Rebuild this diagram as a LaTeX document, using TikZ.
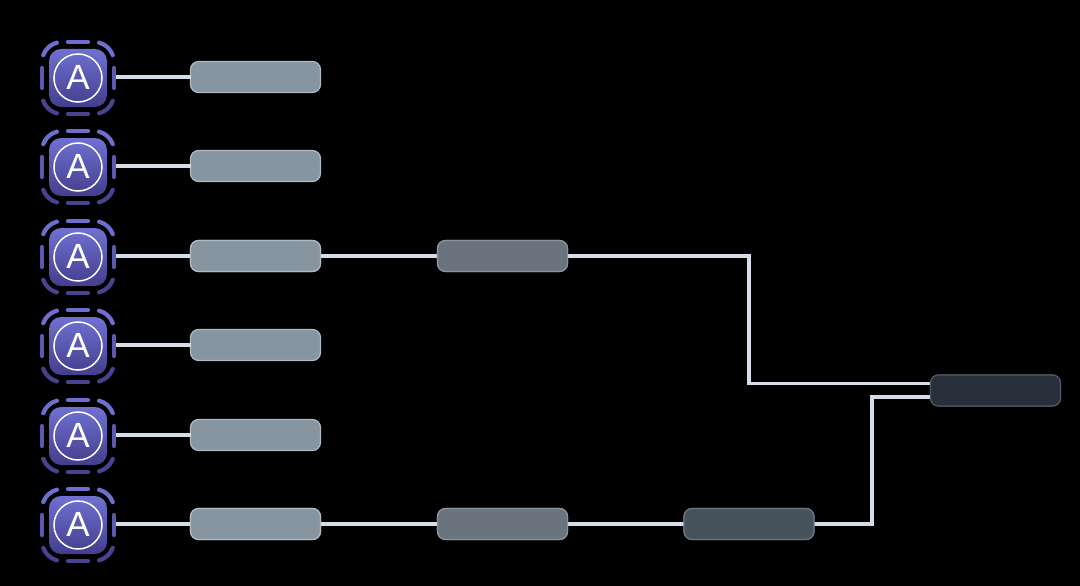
\documentclass[tikz,border=0pt]{standalone}
\usepackage{fontspec}
\setmainfont{Liberation Sans}
\usepackage{xcolor}
\definecolor{bg}{HTML}{000000}
\definecolor{wire}{HTML}{D5DDE8}
\definecolor{agenttop}{HTML}{6F70D2}
\definecolor{agentbot}{HTML}{433E8C}
\definecolor{ringtop}{HTML}{6E6ECF}
\definecolor{ringmid}{HTML}{5B58B2}
\definecolor{ringbot}{HTML}{484391}
\definecolor{stageAfill}{HTML}{8795A1}
\definecolor{stageAline}{HTML}{AEBAC4}
\definecolor{stageBfill}{HTML}{69747F}
\definecolor{stageBline}{HTML}{8A949E}
\definecolor{stageCfill}{HTML}{46525C}
\definecolor{stageCline}{HTML}{6A757F}
\definecolor{stageDfill}{HTML}{27303A}
\definecolor{stageDline}{HTML}{4E5862}
\tikzset{
  wireline/.style={draw=wire, line width=3.8pt},
  stagebox/.style={rectangle, rounded corners=8pt, minimum width=130pt, minimum height=31pt, inner sep=0pt, outer sep=0pt, line width=1.2pt},
  stageA/.style={stagebox, fill=stageAfill, draw=stageAline},
  stageB/.style={stagebox, fill=stageBfill, draw=stageBline},
  stageC/.style={stagebox, fill=stageCfill, draw=stageCline},
  stageD/.style={stagebox, fill=stageDfill, draw=stageDline},
  agentsq/.style={rectangle, rounded corners=12pt, minimum size=58pt, inner sep=0pt, top color=agenttop, bottom color=agentbot},
  agentring/.style={circle, draw=white, line width=1.5pt, minimum size=48pt, inner sep=0pt, text=white, font=\fontsize{35}{35}\selectfont},
  agenthold/.style={rectangle, minimum size=76pt, inner sep=0pt, outer sep=0pt},
  seg/.style={line width=4.2pt, line cap=round},
}
\begin{document}
\begin{tikzpicture}[x=1pt,y=-1pt]
  \useasboundingbox[fill=bg] (0,0) rectangle (1080,586);

  % agents and first stage
  \foreach \n/\y in {1/77,2/166,3/256,4/345,5/435,6/524}{
    \node[agenthold] (agent\n) at (78,\y+1) {};
    \node[agentsq] at (agent\n) {};
    \node[agentring] at (agent\n) {\raisebox{2pt}{A}};
    \begin{scope}[shift={(agent\n.center)}]
      \draw[seg,ringtop] (-10,-36) -- (10,-36);
      \draw[seg,ringmid] (-36,-10) -- (-36,10);
      \draw[seg,ringmid] (36,-10) -- (36,10);
      \draw[seg,ringbot] (-10,36) -- (10,36);
      \draw[seg,ringtop] (-16,-16) ++(200:20) arc (200:255:20);
      \draw[seg,ringtop] (16,-16) ++(285:20) arc (285:340:20);
      \draw[seg,ringbot] (-16,16) ++(105:20) arc (105:160:20);
      \draw[seg,ringbot] (16,16) ++(20:20) arc (20:75:20);
    \end{scope}
    \node[stageA] (first\n) at (255.5,\y) {};
    \draw[wireline] (first\n.west -| agent\n.east) -- (first\n.west);
  }

  % later stages
  \node[stageB] (second3) at (502.5,256) {};
  \node[stageB] (second6) at (502.5,524) {};
  \node[stageC] (third6) at (749,524) {};
  \node[stageD] (final) at (995.5,390.5) {};
  \coordinate (finalup) at (930,383.5);
  \coordinate (finaldown) at (930,397);
  \coordinate (bendup) at (748.7,256);
  \coordinate (benddown) at (872,524);

  \draw[wireline] (first3) -- (second3);
  \draw[wireline] (first6) -- (second6);
  \draw[wireline] (second6) -- (third6);
  \draw[wireline] (second3.east) -- (bendup) |- (finalup);
  \draw[wireline] (third6.east) -- (benddown) |- (finaldown);

  % boxes again, over the wire ends
  \foreach \n in {3,6}{
    \node[stageA] at (first\n) {};
    \node[stageB] at (second\n) {};
  }
  \node[stageC] at (third6) {};
  \node[stageD] at (final) {};
\end{tikzpicture}
\end{document}
